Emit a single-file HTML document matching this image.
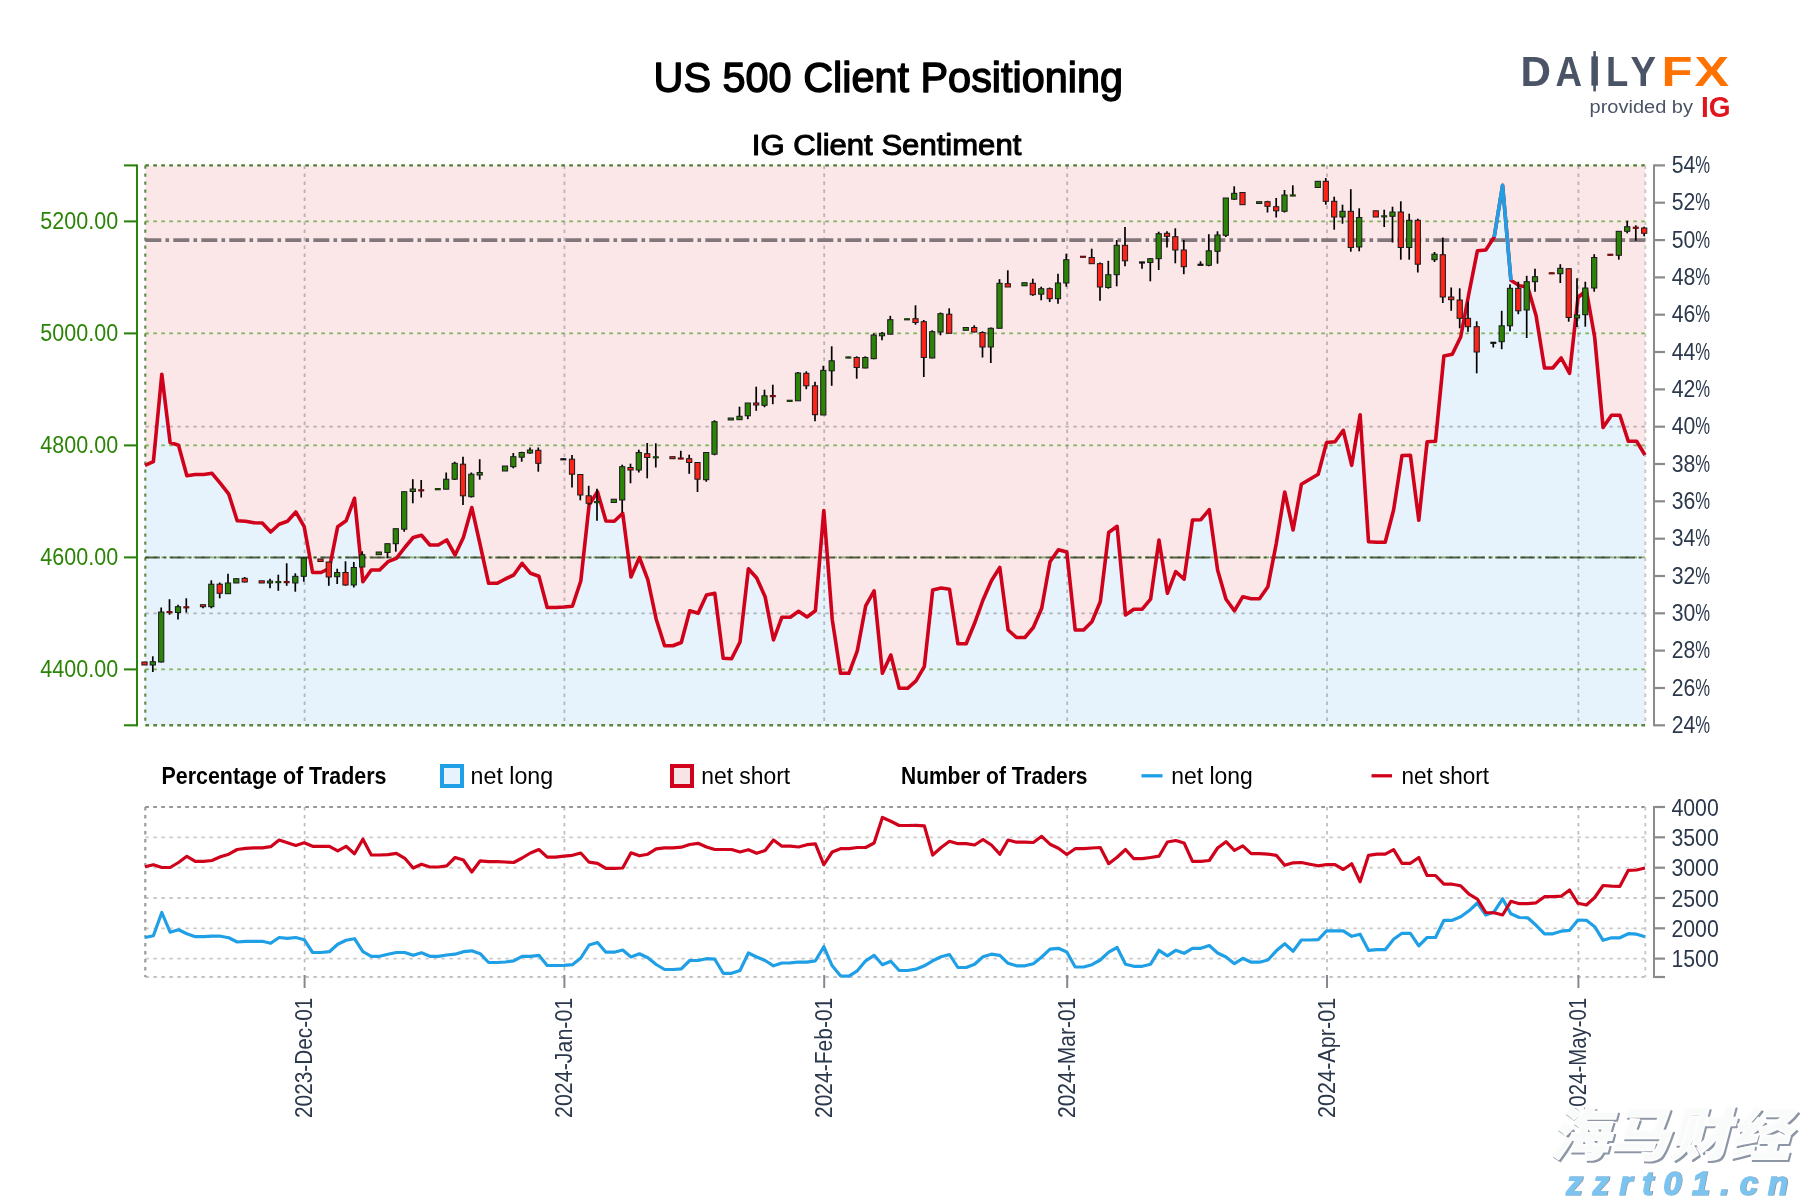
<!DOCTYPE html>
<html lang="en"><head><meta charset="utf-8"><title>US 500 Client Positioning</title>
<style>html,body{margin:0;padding:0;background:#fff;}body{width:1800px;height:1200px;overflow:hidden;}svg{display:block;will-change:transform;}text{font-family:"Liberation Sans",sans-serif;}.cjk{font-family:"Liberation Sans","Noto Sans CJK SC",sans-serif;}</style></head><body>
<svg width="1800" height="1200" viewBox="0 0 1800 1200">
<rect width="1800" height="1200" fill="#ffffff"/>
<text x="888.3" y="92.2" text-anchor="middle" font-size="42" fill="#000" stroke="#000" stroke-width="1.4" stroke-linejoin="round" textLength="469.5" lengthAdjust="spacingAndGlyphs">US 500 Client Positioning</text>
<text x="886.6" y="155.3" text-anchor="middle" font-size="30" fill="#000" stroke="#000" stroke-width="1.05" stroke-linejoin="round" textLength="269.5" lengthAdjust="spacingAndGlyphs">IG Client Sentiment</text>
<g font-weight="bold" font-size="43">
<text x="1520.5" y="85.6" fill="#4a5466" textLength="30.5" lengthAdjust="spacingAndGlyphs">D</text>
<text x="1555.5" y="85.6" fill="#4a5466" textLength="26.5" lengthAdjust="spacingAndGlyphs">A</text>
<text x="1606" y="85.6" fill="#4a5466" textLength="22.3" lengthAdjust="spacingAndGlyphs">L</text>
<text x="1630.5" y="85.6" fill="#4a5466" textLength="25.5" lengthAdjust="spacingAndGlyphs">Y</text>
<text x="1661.6" y="85.6" fill="#ff7200" textLength="31" lengthAdjust="spacingAndGlyphs">F</text>
<text x="1694.5" y="85.6" fill="#ff7200" textLength="34.5" lengthAdjust="spacingAndGlyphs">X</text>
</g>
<rect x="1591.4" y="56.4" width="6.5" height="29.2" fill="#4a5466"/><rect x="1593.3" y="51.1" width="2.6" height="40.3" fill="#4a5466"/>
<text x="1589.5" y="112.6" font-size="19.2" fill="#4a5466" textLength="103.5" lengthAdjust="spacingAndGlyphs">provided by</text>
<text x="1700.9" y="117.2" font-size="30.3" font-weight="bold" fill="#e0161e" textLength="29.6" lengthAdjust="spacingAndGlyphs">IG</text>
<rect x="145.3" y="165.4" width="1500.0" height="559.9" fill="#fbe6e8"/>
<polygon points="145.0,725.3 145.0,465.3 153.4,461.7 161.8,374.2 170.1,442.5 178.5,445.3 186.9,475.8 195.3,474.5 203.7,474.5 212.0,473.3 220.4,483.3 228.8,494.2 237.2,520.8 245.6,521.3 253.9,522.8 262.3,523.0 270.7,532.0 279.1,524.2 287.5,521.2 295.8,512.0 304.2,526.7 312.6,572.5 321.0,572.5 329.4,568.3 337.7,526.7 346.1,520.8 354.5,498.3 362.9,581.7 371.3,570.0 379.6,570.0 388.0,561.7 396.4,558.3 404.8,547.5 413.2,537.5 421.5,535.3 429.9,545.0 438.3,545.0 446.7,540.0 455.1,555.0 463.4,537.5 471.8,507.5 480.2,545.0 488.6,583.3 497.0,583.3 505.3,579.0 513.7,575.0 522.1,563.3 530.5,573.3 538.9,576.3 547.2,607.5 555.6,607.5 564.0,607.0 572.4,606.3 580.8,581.0 589.1,505.0 597.5,491.7 605.9,521.0 614.3,521.3 622.7,513.3 631.0,577.0 639.4,557.5 647.8,579.7 656.2,619.2 664.6,645.8 672.9,645.8 681.3,642.5 689.7,610.8 698.1,613.3 706.5,595.0 714.8,593.3 723.2,658.3 731.6,658.7 740.0,642.0 748.4,568.7 756.7,578.0 765.1,596.7 773.5,640.0 781.9,617.2 790.3,617.2 798.6,611.3 807.0,617.0 815.4,610.8 823.8,510.5 832.2,619.2 840.5,673.3 848.9,673.3 857.3,650.8 865.7,605.8 874.1,590.8 882.4,673.3 890.8,655.0 899.2,688.3 907.6,688.3 916.0,680.8 924.3,666.7 932.7,590.0 941.1,588.0 949.5,589.2 957.9,643.7 966.2,643.7 974.6,623.3 983.0,600.0 991.4,580.8 999.8,567.5 1008.1,630.0 1016.5,637.5 1024.9,637.5 1033.3,627.5 1041.7,608.3 1050.0,561.7 1058.4,549.7 1066.8,552.0 1075.2,630.0 1083.6,630.0 1091.9,621.7 1100.3,601.7 1108.7,532.5 1117.1,526.3 1125.5,615.0 1133.8,609.2 1142.2,609.2 1150.6,599.2 1159.0,540.0 1167.4,593.3 1175.7,571.7 1184.1,579.2 1192.5,520.0 1200.9,519.7 1209.3,509.7 1217.6,570.0 1226.0,599.2 1234.4,610.8 1242.8,596.7 1251.2,598.7 1259.5,598.7 1267.9,586.7 1276.3,543.3 1284.7,492.0 1293.1,530.0 1301.4,484.2 1309.8,479.2 1318.2,474.2 1326.6,442.5 1335.0,441.7 1343.3,430.3 1351.7,465.3 1360.1,414.7 1368.5,541.7 1376.9,542.2 1385.2,542.2 1393.6,510.0 1402.0,455.5 1410.4,455.3 1418.8,520.3 1427.1,441.7 1435.5,441.3 1443.9,356.0 1452.3,354.2 1460.7,337.0 1469.0,293.0 1477.4,250.8 1485.8,250.0 1494.2,237.0 1502.6,185.3 1510.9,280.3 1519.3,285.8 1527.7,287.0 1536.1,315.8 1544.5,368.0 1552.8,368.0 1561.2,358.0 1569.6,373.3 1578.0,297.5 1586.4,290.5 1594.7,337.5 1603.1,427.5 1611.5,415.3 1619.9,415.3 1628.3,441.3 1636.6,441.3 1645.0,455.0 1645.0,725.3" fill="#e6f3fc"/>
<line x1="145.3" x2="1645.3" y1="221.4" y2="221.4" stroke="#7fb356" stroke-width="1.7" stroke-dasharray="3.6 4.4"/>
<line x1="145.3" x2="1645.3" y1="333.4" y2="333.4" stroke="#7fb356" stroke-width="1.7" stroke-dasharray="3.6 4.4"/>
<line x1="145.3" x2="1645.3" y1="445.4" y2="445.4" stroke="#7fb356" stroke-width="1.7" stroke-dasharray="3.6 4.4"/>
<line x1="145.3" x2="1645.3" y1="557.4" y2="557.4" stroke="#7fb356" stroke-width="1.7" stroke-dasharray="3.6 4.4"/>
<line x1="145.3" x2="1645.3" y1="669.4" y2="669.4" stroke="#7fb356" stroke-width="1.7" stroke-dasharray="3.6 4.4"/>
<line x1="145.3" x2="1645.3" y1="426.7" y2="426.7" stroke="#7c7c80" stroke-opacity="0.5" stroke-width="1.8" stroke-dasharray="3.6 4.4"/>
<line x1="145.3" x2="1645.3" y1="613.4" y2="613.4" stroke="#7c7c80" stroke-opacity="0.5" stroke-width="1.8" stroke-dasharray="3.6 4.4"/>
<line x1="304.6" x2="304.6" y1="165.4" y2="721.3" stroke="#7c7c80" stroke-opacity="0.5" stroke-width="1.8" stroke-dasharray="3.6 4.4"/>
<line x1="564.4" x2="564.4" y1="165.4" y2="721.3" stroke="#7c7c80" stroke-opacity="0.5" stroke-width="1.8" stroke-dasharray="3.6 4.4"/>
<line x1="824.2" x2="824.2" y1="165.4" y2="721.3" stroke="#7c7c80" stroke-opacity="0.5" stroke-width="1.8" stroke-dasharray="3.6 4.4"/>
<line x1="1067.2" x2="1067.2" y1="165.4" y2="721.3" stroke="#7c7c80" stroke-opacity="0.5" stroke-width="1.8" stroke-dasharray="3.6 4.4"/>
<line x1="1327.0" x2="1327.0" y1="165.4" y2="721.3" stroke="#7c7c80" stroke-opacity="0.5" stroke-width="1.8" stroke-dasharray="3.6 4.4"/>
<line x1="1578.4" x2="1578.4" y1="165.4" y2="721.3" stroke="#7c7c80" stroke-opacity="0.5" stroke-width="1.8" stroke-dasharray="3.6 4.4"/>
<line x1="145.3" x2="1645.3" y1="165.4" y2="165.4" stroke="#4c7d2c" stroke-width="2.2" stroke-dasharray="3.6 4.4"/>
<line x1="145.3" x2="1645.3" y1="725.3" y2="725.3" stroke="#4c7d2c" stroke-opacity="0.92" stroke-width="2.4" stroke-dasharray="3.8 4.2"/>
<line x1="145.3" x2="145.3" y1="165.4" y2="725.3" stroke="#4c7d2c" stroke-opacity="0.9" stroke-width="2.1" stroke-dasharray="3.3 4.7"/>
<line x1="1645.3" x2="1645.3" y1="165.4" y2="725.3" stroke="#c9c5c6" stroke-width="2" stroke-dasharray="3.6 4.4"/>
<line x1="145.3" x2="1645.3" y1="240.2" y2="240.2" stroke="#82777a" stroke-width="3.8" stroke-dasharray="16 4.2 3.6 4.2"/>
<line x1="145.3" x2="1645.3" y1="557.5" y2="557.5" stroke="#1c2a14" stroke-opacity="0.72" stroke-width="2.1" stroke-dasharray="14.5 3.8 2.9 3.8"/>
<polyline points="145.0,465.3 153.4,461.7 161.8,374.2 170.1,442.5 178.5,445.3 186.9,475.8 195.3,474.5 203.7,474.5 212.0,473.3 220.4,483.3 228.8,494.2 237.2,520.8 245.6,521.3 253.9,522.8 262.3,523.0 270.7,532.0 279.1,524.2 287.5,521.2 295.8,512.0 304.2,526.7 312.6,572.5 321.0,572.5 329.4,568.3 337.7,526.7 346.1,520.8 354.5,498.3 362.9,581.7 371.3,570.0 379.6,570.0 388.0,561.7 396.4,558.3 404.8,547.5 413.2,537.5 421.5,535.3 429.9,545.0 438.3,545.0 446.7,540.0 455.1,555.0 463.4,537.5 471.8,507.5 480.2,545.0 488.6,583.3 497.0,583.3 505.3,579.0 513.7,575.0 522.1,563.3 530.5,573.3 538.9,576.3 547.2,607.5 555.6,607.5 564.0,607.0 572.4,606.3 580.8,581.0 589.1,505.0 597.5,491.7 605.9,521.0 614.3,521.3 622.7,513.3 631.0,577.0 639.4,557.5 647.8,579.7 656.2,619.2 664.6,645.8 672.9,645.8 681.3,642.5 689.7,610.8 698.1,613.3 706.5,595.0 714.8,593.3 723.2,658.3 731.6,658.7 740.0,642.0 748.4,568.7 756.7,578.0 765.1,596.7 773.5,640.0 781.9,617.2 790.3,617.2 798.6,611.3 807.0,617.0 815.4,610.8 823.8,510.5 832.2,619.2 840.5,673.3 848.9,673.3 857.3,650.8 865.7,605.8 874.1,590.8 882.4,673.3 890.8,655.0 899.2,688.3 907.6,688.3 916.0,680.8 924.3,666.7 932.7,590.0 941.1,588.0 949.5,589.2 957.9,643.7 966.2,643.7 974.6,623.3 983.0,600.0 991.4,580.8 999.8,567.5 1008.1,630.0 1016.5,637.5 1024.9,637.5 1033.3,627.5 1041.7,608.3 1050.0,561.7 1058.4,549.7 1066.8,552.0 1075.2,630.0 1083.6,630.0 1091.9,621.7 1100.3,601.7 1108.7,532.5 1117.1,526.3 1125.5,615.0 1133.8,609.2 1142.2,609.2 1150.6,599.2 1159.0,540.0 1167.4,593.3 1175.7,571.7 1184.1,579.2 1192.5,520.0 1200.9,519.7 1209.3,509.7 1217.6,570.0 1226.0,599.2 1234.4,610.8 1242.8,596.7 1251.2,598.7 1259.5,598.7 1267.9,586.7 1276.3,543.3 1284.7,492.0 1293.1,530.0 1301.4,484.2 1309.8,479.2 1318.2,474.2 1326.6,442.5 1335.0,441.7 1343.3,430.3 1351.7,465.3 1360.1,414.7 1368.5,541.7 1376.9,542.2 1385.2,542.2 1393.6,510.0 1402.0,455.5 1410.4,455.3 1418.8,520.3 1427.1,441.7 1435.5,441.3 1443.9,356.0 1452.3,354.2 1460.7,337.0 1469.0,293.0 1477.4,250.8 1485.8,250.0 1494.2,237.0 1502.6,185.3 1510.9,280.3 1519.3,285.8 1527.7,287.0 1536.1,315.8 1544.5,368.0 1552.8,368.0 1561.2,358.0 1569.6,373.3 1578.0,297.5 1586.4,290.5 1594.7,337.5 1603.1,427.5 1611.5,415.3 1619.9,415.3 1628.3,441.3 1636.6,441.3 1645.0,455.0" fill="none" stroke="#d0021b" stroke-width="3.6" stroke-linejoin="round"/>
<polyline points="1494.2,237.0 1502.6,185.3 1510.9,280.3" fill="none" stroke="#1f9fe5" stroke-width="3.6" stroke-linejoin="round"/>
<line x1="144.5" x2="144.5" y1="662" y2="665" stroke="#000" stroke-width="1.7"/>
<rect x="141.9" y="662.0" width="5.2" height="3.0" fill="#ff2218" stroke="#1a1a1a" stroke-width="1"/>
<line x1="152.8" x2="152.8" y1="656.3" y2="672" stroke="#000" stroke-width="1.7"/>
<rect x="150.2" y="661.7" width="5.2" height="3.3" fill="#2b8408" stroke="#1a1a1a" stroke-width="1"/>
<line x1="161.2" x2="161.2" y1="607.5" y2="662.5" stroke="#000" stroke-width="1.7"/>
<rect x="158.6" y="612.0" width="5.2" height="50.0" fill="#2b8408" stroke="#1a1a1a" stroke-width="1"/>
<line x1="169.5" x2="169.5" y1="599.2" y2="614.7" stroke="#000" stroke-width="1.7"/>
<rect x="166.5" y="611.0" width="6" height="2.2" fill="#6b0f0f"/>
<line x1="178" x2="178" y1="604.7" y2="619.5" stroke="#000" stroke-width="1.7"/>
<rect x="175.4" y="606.7" width="5.2" height="5.8" fill="#2b8408" stroke="#1a1a1a" stroke-width="1"/>
<line x1="186.3" x2="186.3" y1="598.3" y2="612.5" stroke="#000" stroke-width="1.7"/>
<rect x="183.3" y="606.2" width="6" height="2.2" fill="#6b0f0f"/>
<line x1="203" x2="203" y1="604.7" y2="608.3" stroke="#000" stroke-width="1.7"/>
<rect x="200.4" y="604.7" width="5.2" height="2.0" fill="#ff2218" stroke="#1a1a1a" stroke-width="1"/>
<line x1="211.3" x2="211.3" y1="580.3" y2="608.3" stroke="#000" stroke-width="1.7"/>
<rect x="208.7" y="584.2" width="5.2" height="22.5" fill="#2b8408" stroke="#1a1a1a" stroke-width="1"/>
<line x1="219.7" x2="219.7" y1="582.5" y2="598.3" stroke="#000" stroke-width="1.7"/>
<rect x="217.1" y="584.2" width="5.2" height="9.1" fill="#ff2218" stroke="#1a1a1a" stroke-width="1"/>
<line x1="228" x2="228" y1="573.7" y2="593.7" stroke="#000" stroke-width="1.7"/>
<rect x="225.4" y="583.0" width="5.2" height="10.7" fill="#2b8408" stroke="#1a1a1a" stroke-width="1"/>
<line x1="236.3" x2="236.3" y1="578.7" y2="583" stroke="#000" stroke-width="1.7"/>
<rect x="233.7" y="578.7" width="5.2" height="4.3" fill="#2b8408" stroke="#1a1a1a" stroke-width="1"/>
<line x1="244.7" x2="244.7" y1="577" y2="582.5" stroke="#000" stroke-width="1.7"/>
<rect x="242.1" y="578.3" width="5.2" height="3.7" fill="#ff2218" stroke="#1a1a1a" stroke-width="1"/>
<line x1="261.7" x2="261.7" y1="580.8" y2="583" stroke="#000" stroke-width="1.7"/>
<rect x="259.1" y="580.8" width="5.2" height="2.2" fill="#ff2218" stroke="#1a1a1a" stroke-width="1"/>
<line x1="270" x2="270" y1="578.7" y2="588.3" stroke="#000" stroke-width="1.7"/>
<rect x="267.4" y="581.0" width="5.2" height="2.0" fill="#2b8408" stroke="#1a1a1a" stroke-width="1"/>
<line x1="278.3" x2="278.3" y1="574.7" y2="590.8" stroke="#000" stroke-width="1.7"/>
<rect x="275.3" y="581.0" width="6" height="2.2" fill="#1c3d0c"/>
<line x1="286.7" x2="286.7" y1="563.3" y2="585.8" stroke="#000" stroke-width="1.7"/>
<rect x="283.7" y="581.0" width="6" height="2.2" fill="#6b0f0f"/>
<line x1="295.3" x2="295.3" y1="573.3" y2="591.7" stroke="#000" stroke-width="1.7"/>
<rect x="292.7" y="576.3" width="5.2" height="6.7" fill="#2b8408" stroke="#1a1a1a" stroke-width="1"/>
<line x1="303.8" x2="303.8" y1="557" y2="581.7" stroke="#000" stroke-width="1.7"/>
<rect x="301.2" y="558.0" width="5.2" height="18.3" fill="#2b8408" stroke="#1a1a1a" stroke-width="1"/>
<line x1="320.5" x2="320.5" y1="559" y2="561.5" stroke="#000" stroke-width="1.7"/>
<rect x="317.9" y="559.0" width="5.2" height="2.5" fill="#ff2218" stroke="#1a1a1a" stroke-width="1"/>
<line x1="328.8" x2="328.8" y1="562" y2="585.8" stroke="#000" stroke-width="1.7"/>
<rect x="326.2" y="562.0" width="5.2" height="15.0" fill="#ff2218" stroke="#1a1a1a" stroke-width="1"/>
<line x1="337.2" x2="337.2" y1="568.7" y2="584" stroke="#000" stroke-width="1.7"/>
<rect x="334.6" y="572.5" width="5.2" height="4.2" fill="#2b8408" stroke="#1a1a1a" stroke-width="1"/>
<line x1="345.5" x2="345.5" y1="561.3" y2="585.8" stroke="#000" stroke-width="1.7"/>
<rect x="342.9" y="572.5" width="5.2" height="12.5" fill="#ff2218" stroke="#1a1a1a" stroke-width="1"/>
<line x1="353.8" x2="353.8" y1="562" y2="587.5" stroke="#000" stroke-width="1.7"/>
<rect x="351.2" y="567.5" width="5.2" height="17.5" fill="#2b8408" stroke="#1a1a1a" stroke-width="1"/>
<line x1="362.2" x2="362.2" y1="551.3" y2="567" stroke="#000" stroke-width="1.7"/>
<rect x="359.6" y="554.7" width="5.2" height="12.3" fill="#2b8408" stroke="#1a1a1a" stroke-width="1"/>
<line x1="378.8" x2="378.8" y1="552" y2="554.7" stroke="#000" stroke-width="1.7"/>
<rect x="376.2" y="552.0" width="5.2" height="2.7" fill="#2b8408" stroke="#1a1a1a" stroke-width="1"/>
<line x1="387.5" x2="387.5" y1="543.7" y2="558.3" stroke="#000" stroke-width="1.7"/>
<rect x="384.9" y="543.7" width="5.2" height="8.8" fill="#2b8408" stroke="#1a1a1a" stroke-width="1"/>
<line x1="395.8" x2="395.8" y1="528.7" y2="551.7" stroke="#000" stroke-width="1.7"/>
<rect x="393.2" y="528.7" width="5.2" height="15.0" fill="#2b8408" stroke="#1a1a1a" stroke-width="1"/>
<line x1="404.2" x2="404.2" y1="491.7" y2="531.7" stroke="#000" stroke-width="1.7"/>
<rect x="401.6" y="491.7" width="5.2" height="37.5" fill="#2b8408" stroke="#1a1a1a" stroke-width="1"/>
<line x1="412.8" x2="412.8" y1="479.2" y2="503.3" stroke="#000" stroke-width="1.7"/>
<rect x="410.2" y="489.0" width="5.2" height="2.5" fill="#2b8408" stroke="#1a1a1a" stroke-width="1"/>
<line x1="421.2" x2="421.2" y1="480" y2="497.5" stroke="#000" stroke-width="1.7"/>
<rect x="418.2" y="489.2" width="6" height="2.2" fill="#6b0f0f"/>
<line x1="437.8" x2="437.8" y1="488.3" y2="490" stroke="#000" stroke-width="1.7"/>
<rect x="434.8" y="488.0" width="6" height="2.3" fill="#1c3d0c"/>
<line x1="446.2" x2="446.2" y1="472.5" y2="489.2" stroke="#000" stroke-width="1.7"/>
<rect x="443.6" y="479.2" width="5.2" height="10.0" fill="#2b8408" stroke="#1a1a1a" stroke-width="1"/>
<line x1="454.7" x2="454.7" y1="461.7" y2="480" stroke="#000" stroke-width="1.7"/>
<rect x="452.1" y="463.3" width="5.2" height="15.9" fill="#2b8408" stroke="#1a1a1a" stroke-width="1"/>
<line x1="463" x2="463" y1="456.7" y2="505" stroke="#000" stroke-width="1.7"/>
<rect x="460.4" y="464.2" width="5.2" height="31.6" fill="#ff2218" stroke="#1a1a1a" stroke-width="1"/>
<line x1="471.3" x2="471.3" y1="472.5" y2="497.5" stroke="#000" stroke-width="1.7"/>
<rect x="468.7" y="474.2" width="5.2" height="22.5" fill="#2b8408" stroke="#1a1a1a" stroke-width="1"/>
<line x1="479.7" x2="479.7" y1="459.2" y2="479.7" stroke="#000" stroke-width="1.7"/>
<rect x="477.1" y="472.5" width="5.2" height="2.5" fill="#2b8408" stroke="#1a1a1a" stroke-width="1"/>
<line x1="505" x2="505" y1="466" y2="471" stroke="#000" stroke-width="1.7"/>
<rect x="502.4" y="466.0" width="5.2" height="5.0" fill="#2b8408" stroke="#1a1a1a" stroke-width="1"/>
<line x1="513.3" x2="513.3" y1="453" y2="468.3" stroke="#000" stroke-width="1.7"/>
<rect x="510.7" y="456.7" width="5.2" height="10.0" fill="#2b8408" stroke="#1a1a1a" stroke-width="1"/>
<line x1="521.7" x2="521.7" y1="451.7" y2="461.7" stroke="#000" stroke-width="1.7"/>
<rect x="519.1" y="452.5" width="5.2" height="4.7" fill="#2b8408" stroke="#1a1a1a" stroke-width="1"/>
<line x1="530" x2="530" y1="447.5" y2="453.7" stroke="#000" stroke-width="1.7"/>
<rect x="527.4" y="450.0" width="5.2" height="3.0" fill="#2b8408" stroke="#1a1a1a" stroke-width="1"/>
<line x1="538.3" x2="538.3" y1="447.5" y2="471.7" stroke="#000" stroke-width="1.7"/>
<rect x="535.7" y="450.3" width="5.2" height="13.0" fill="#ff2218" stroke="#1a1a1a" stroke-width="1"/>
<line x1="563.3" x2="563.3" y1="458.5" y2="460" stroke="#000" stroke-width="1.7"/>
<rect x="560.3" y="458.2" width="6" height="2.2" fill="#111"/>
<line x1="572" x2="572" y1="455" y2="487.5" stroke="#000" stroke-width="1.7"/>
<rect x="569.4" y="459.2" width="5.2" height="15.0" fill="#ff2218" stroke="#1a1a1a" stroke-width="1"/>
<line x1="580.3" x2="580.3" y1="474.5" y2="500.3" stroke="#000" stroke-width="1.7"/>
<rect x="577.7" y="474.5" width="5.2" height="20.5" fill="#ff2218" stroke="#1a1a1a" stroke-width="1"/>
<line x1="588.7" x2="588.7" y1="485.8" y2="505" stroke="#000" stroke-width="1.7"/>
<rect x="586.1" y="495.8" width="5.2" height="7.5" fill="#ff2218" stroke="#1a1a1a" stroke-width="1"/>
<line x1="597" x2="597" y1="488.7" y2="520.8" stroke="#000" stroke-width="1.7"/>
<rect x="594.0" y="501.0" width="6" height="2.2" fill="#1c3d0c"/>
<line x1="613.8" x2="613.8" y1="499.2" y2="502.5" stroke="#000" stroke-width="1.7"/>
<rect x="611.2" y="499.2" width="5.2" height="3.3" fill="#2b8408" stroke="#1a1a1a" stroke-width="1"/>
<line x1="622.2" x2="622.2" y1="464.7" y2="512.5" stroke="#000" stroke-width="1.7"/>
<rect x="619.6" y="466.7" width="5.2" height="33.3" fill="#2b8408" stroke="#1a1a1a" stroke-width="1"/>
<line x1="630.5" x2="630.5" y1="463.7" y2="483.3" stroke="#000" stroke-width="1.7"/>
<rect x="627.9" y="467.5" width="5.2" height="2.5" fill="#ff2218" stroke="#1a1a1a" stroke-width="1"/>
<line x1="638.8" x2="638.8" y1="449.7" y2="472.5" stroke="#000" stroke-width="1.7"/>
<rect x="636.2" y="452.5" width="5.2" height="17.5" fill="#2b8408" stroke="#1a1a1a" stroke-width="1"/>
<line x1="647.2" x2="647.2" y1="443" y2="478.3" stroke="#000" stroke-width="1.7"/>
<rect x="644.6" y="453.7" width="5.2" height="3.8" fill="#ff2218" stroke="#1a1a1a" stroke-width="1"/>
<line x1="655.8" x2="655.8" y1="443.3" y2="467.5" stroke="#000" stroke-width="1.7"/>
<rect x="652.8" y="456.2" width="6" height="2.2" fill="#1c3d0c"/>
<line x1="672.5" x2="672.5" y1="456.7" y2="458.7" stroke="#000" stroke-width="1.7"/>
<rect x="669.9" y="456.7" width="5.2" height="2.0" fill="#ff2218" stroke="#1a1a1a" stroke-width="1"/>
<line x1="680.8" x2="680.8" y1="450.8" y2="459.2" stroke="#000" stroke-width="1.7"/>
<rect x="677.8" y="457.4" width="6" height="2.2" fill="#6b0f0f"/>
<line x1="689.2" x2="689.2" y1="454.7" y2="473.8" stroke="#000" stroke-width="1.7"/>
<rect x="686.6" y="458.7" width="5.2" height="3.8" fill="#ff2218" stroke="#1a1a1a" stroke-width="1"/>
<line x1="697.5" x2="697.5" y1="462.5" y2="492" stroke="#000" stroke-width="1.7"/>
<rect x="694.9" y="462.5" width="5.2" height="16.7" fill="#ff2218" stroke="#1a1a1a" stroke-width="1"/>
<line x1="706.2" x2="706.2" y1="452.5" y2="481.7" stroke="#000" stroke-width="1.7"/>
<rect x="703.6" y="452.5" width="5.2" height="27.2" fill="#2b8408" stroke="#1a1a1a" stroke-width="1"/>
<line x1="714.5" x2="714.5" y1="420.3" y2="455.3" stroke="#000" stroke-width="1.7"/>
<rect x="711.9" y="421.7" width="5.2" height="32.5" fill="#2b8408" stroke="#1a1a1a" stroke-width="1"/>
<line x1="730.8" x2="730.8" y1="418" y2="420" stroke="#000" stroke-width="1.7"/>
<rect x="728.2" y="418.0" width="5.2" height="2.0" fill="#2b8408" stroke="#1a1a1a" stroke-width="1"/>
<line x1="739.5" x2="739.5" y1="406.7" y2="419.7" stroke="#000" stroke-width="1.7"/>
<rect x="736.9" y="416.3" width="5.2" height="3.4" fill="#2b8408" stroke="#1a1a1a" stroke-width="1"/>
<line x1="747.8" x2="747.8" y1="403" y2="419.2" stroke="#000" stroke-width="1.7"/>
<rect x="745.2" y="403.0" width="5.2" height="12.8" fill="#2b8408" stroke="#1a1a1a" stroke-width="1"/>
<line x1="756.2" x2="756.2" y1="386.7" y2="410.8" stroke="#000" stroke-width="1.7"/>
<rect x="753.6" y="403.0" width="5.2" height="2.0" fill="#ff2218" stroke="#1a1a1a" stroke-width="1"/>
<line x1="764.5" x2="764.5" y1="389.7" y2="407.2" stroke="#000" stroke-width="1.7"/>
<rect x="761.9" y="395.8" width="5.2" height="9.5" fill="#2b8408" stroke="#1a1a1a" stroke-width="1"/>
<line x1="772.8" x2="772.8" y1="384.7" y2="404.2" stroke="#000" stroke-width="1.7"/>
<rect x="769.8" y="395.0" width="6" height="2.2" fill="#6b0f0f"/>
<line x1="789.7" x2="789.7" y1="400" y2="401.7" stroke="#000" stroke-width="1.7"/>
<rect x="786.7" y="399.7" width="6" height="2.3" fill="#1c3d0c"/>
<line x1="798" x2="798" y1="372" y2="400.8" stroke="#000" stroke-width="1.7"/>
<rect x="795.4" y="373.0" width="5.2" height="27.8" fill="#2b8408" stroke="#1a1a1a" stroke-width="1"/>
<line x1="806.3" x2="806.3" y1="371.3" y2="389.2" stroke="#000" stroke-width="1.7"/>
<rect x="803.7" y="373.3" width="5.2" height="12.5" fill="#ff2218" stroke="#1a1a1a" stroke-width="1"/>
<line x1="815" x2="815" y1="381.7" y2="421.3" stroke="#000" stroke-width="1.7"/>
<rect x="812.4" y="385.8" width="5.2" height="28.9" fill="#ff2218" stroke="#1a1a1a" stroke-width="1"/>
<line x1="823.3" x2="823.3" y1="365.8" y2="415" stroke="#000" stroke-width="1.7"/>
<rect x="820.7" y="370.3" width="5.2" height="44.7" fill="#2b8408" stroke="#1a1a1a" stroke-width="1"/>
<line x1="831.7" x2="831.7" y1="346.3" y2="385.8" stroke="#000" stroke-width="1.7"/>
<rect x="829.1" y="360.8" width="5.2" height="10.0" fill="#2b8408" stroke="#1a1a1a" stroke-width="1"/>
<line x1="848.3" x2="848.3" y1="356.7" y2="358.3" stroke="#000" stroke-width="1.7"/>
<rect x="845.3" y="356.4" width="6" height="2.2" fill="#1c3d0c"/>
<line x1="856.7" x2="856.7" y1="356.3" y2="378.7" stroke="#000" stroke-width="1.7"/>
<rect x="854.1" y="357.5" width="5.2" height="10.0" fill="#ff2218" stroke="#1a1a1a" stroke-width="1"/>
<line x1="865.3" x2="865.3" y1="356.3" y2="368.3" stroke="#000" stroke-width="1.7"/>
<rect x="862.7" y="357.5" width="5.2" height="10.5" fill="#2b8408" stroke="#1a1a1a" stroke-width="1"/>
<line x1="873.7" x2="873.7" y1="333.3" y2="359.2" stroke="#000" stroke-width="1.7"/>
<rect x="871.1" y="335.0" width="5.2" height="23.7" fill="#2b8408" stroke="#1a1a1a" stroke-width="1"/>
<line x1="882" x2="882" y1="332" y2="340.3" stroke="#000" stroke-width="1.7"/>
<rect x="879.4" y="333.3" width="5.2" height="2.5" fill="#2b8408" stroke="#1a1a1a" stroke-width="1"/>
<line x1="890.3" x2="890.3" y1="315.8" y2="334.2" stroke="#000" stroke-width="1.7"/>
<rect x="887.7" y="319.7" width="5.2" height="14.5" fill="#2b8408" stroke="#1a1a1a" stroke-width="1"/>
<line x1="907" x2="907" y1="318.5" y2="320" stroke="#000" stroke-width="1.7"/>
<rect x="904.0" y="318.2" width="6" height="2.2" fill="#1c3d0c"/>
<line x1="915.5" x2="915.5" y1="305.3" y2="324.7" stroke="#000" stroke-width="1.7"/>
<rect x="912.9" y="318.7" width="5.2" height="3.8" fill="#ff2218" stroke="#1a1a1a" stroke-width="1"/>
<line x1="923.8" x2="923.8" y1="320" y2="377" stroke="#000" stroke-width="1.7"/>
<rect x="921.2" y="321.7" width="5.2" height="35.8" fill="#ff2218" stroke="#1a1a1a" stroke-width="1"/>
<line x1="932.2" x2="932.2" y1="330.3" y2="358.3" stroke="#000" stroke-width="1.7"/>
<rect x="929.6" y="331.7" width="5.2" height="26.3" fill="#2b8408" stroke="#1a1a1a" stroke-width="1"/>
<line x1="940.5" x2="940.5" y1="312.5" y2="335.3" stroke="#000" stroke-width="1.7"/>
<rect x="937.9" y="313.7" width="5.2" height="18.3" fill="#2b8408" stroke="#1a1a1a" stroke-width="1"/>
<line x1="949.2" x2="949.2" y1="308.3" y2="333.3" stroke="#000" stroke-width="1.7"/>
<rect x="946.6" y="314.2" width="5.2" height="19.1" fill="#ff2218" stroke="#1a1a1a" stroke-width="1"/>
<line x1="965.8" x2="965.8" y1="327.5" y2="330.3" stroke="#000" stroke-width="1.7"/>
<rect x="963.2" y="327.5" width="5.2" height="2.8" fill="#2b8408" stroke="#1a1a1a" stroke-width="1"/>
<line x1="974.2" x2="974.2" y1="325.3" y2="332.5" stroke="#000" stroke-width="1.7"/>
<rect x="971.6" y="327.5" width="5.2" height="4.5" fill="#ff2218" stroke="#1a1a1a" stroke-width="1"/>
<line x1="982.5" x2="982.5" y1="331.3" y2="357.5" stroke="#000" stroke-width="1.7"/>
<rect x="979.9" y="332.5" width="5.2" height="14.5" fill="#ff2218" stroke="#1a1a1a" stroke-width="1"/>
<line x1="990.8" x2="990.8" y1="327.5" y2="363" stroke="#000" stroke-width="1.7"/>
<rect x="988.2" y="328.3" width="5.2" height="18.7" fill="#2b8408" stroke="#1a1a1a" stroke-width="1"/>
<line x1="999.5" x2="999.5" y1="279.2" y2="328.3" stroke="#000" stroke-width="1.7"/>
<rect x="996.9" y="283.3" width="5.2" height="45.0" fill="#2b8408" stroke="#1a1a1a" stroke-width="1"/>
<line x1="1007.8" x2="1007.8" y1="270.3" y2="287" stroke="#000" stroke-width="1.7"/>
<rect x="1005.2" y="283.7" width="5.2" height="3.3" fill="#ff2218" stroke="#1a1a1a" stroke-width="1"/>
<line x1="1024.5" x2="1024.5" y1="282.7" y2="285.8" stroke="#000" stroke-width="1.7"/>
<rect x="1021.9" y="282.7" width="5.2" height="3.1" fill="#2b8408" stroke="#1a1a1a" stroke-width="1"/>
<line x1="1032.8" x2="1032.8" y1="278.7" y2="295.8" stroke="#000" stroke-width="1.7"/>
<rect x="1030.2" y="283.3" width="5.2" height="11.4" fill="#ff2218" stroke="#1a1a1a" stroke-width="1"/>
<line x1="1041.2" x2="1041.2" y1="286.7" y2="300.3" stroke="#000" stroke-width="1.7"/>
<rect x="1038.6" y="288.7" width="5.2" height="5.5" fill="#2b8408" stroke="#1a1a1a" stroke-width="1"/>
<line x1="1049.7" x2="1049.7" y1="287.5" y2="302" stroke="#000" stroke-width="1.7"/>
<rect x="1047.1" y="288.7" width="5.2" height="10.0" fill="#ff2218" stroke="#1a1a1a" stroke-width="1"/>
<line x1="1058" x2="1058" y1="273.7" y2="303.7" stroke="#000" stroke-width="1.7"/>
<rect x="1055.4" y="283.0" width="5.2" height="15.7" fill="#2b8408" stroke="#1a1a1a" stroke-width="1"/>
<line x1="1066.3" x2="1066.3" y1="253.7" y2="286.7" stroke="#000" stroke-width="1.7"/>
<rect x="1063.7" y="259.7" width="5.2" height="23.3" fill="#2b8408" stroke="#1a1a1a" stroke-width="1"/>
<line x1="1083" x2="1083" y1="256" y2="257.5" stroke="#000" stroke-width="1.7"/>
<rect x="1080.0" y="255.7" width="6" height="2.2" fill="#6b0f0f"/>
<line x1="1091.7" x2="1091.7" y1="248.7" y2="263.7" stroke="#000" stroke-width="1.7"/>
<rect x="1089.1" y="257.5" width="5.2" height="6.2" fill="#ff2218" stroke="#1a1a1a" stroke-width="1"/>
<line x1="1100" x2="1100" y1="262.5" y2="300.8" stroke="#000" stroke-width="1.7"/>
<rect x="1097.4" y="263.7" width="5.2" height="23.3" fill="#ff2218" stroke="#1a1a1a" stroke-width="1"/>
<line x1="1108.3" x2="1108.3" y1="260.8" y2="288.7" stroke="#000" stroke-width="1.7"/>
<rect x="1105.7" y="274.7" width="5.2" height="12.8" fill="#2b8408" stroke="#1a1a1a" stroke-width="1"/>
<line x1="1116.7" x2="1116.7" y1="240" y2="286.3" stroke="#000" stroke-width="1.7"/>
<rect x="1114.1" y="245.3" width="5.2" height="29.4" fill="#2b8408" stroke="#1a1a1a" stroke-width="1"/>
<line x1="1125" x2="1125" y1="227" y2="266.3" stroke="#000" stroke-width="1.7"/>
<rect x="1122.4" y="245.3" width="5.2" height="15.5" fill="#ff2218" stroke="#1a1a1a" stroke-width="1"/>
<line x1="1142" x2="1142" y1="261.7" y2="268.7" stroke="#000" stroke-width="1.7"/>
<rect x="1139.0" y="261.4" width="6" height="2.2" fill="#111"/>
<line x1="1150.3" x2="1150.3" y1="258" y2="281.3" stroke="#000" stroke-width="1.7"/>
<rect x="1147.7" y="258.7" width="5.2" height="3.8" fill="#2b8408" stroke="#1a1a1a" stroke-width="1"/>
<line x1="1158.7" x2="1158.7" y1="231.7" y2="270" stroke="#000" stroke-width="1.7"/>
<rect x="1156.1" y="233.7" width="5.2" height="25.0" fill="#2b8408" stroke="#1a1a1a" stroke-width="1"/>
<line x1="1167" x2="1167" y1="231.3" y2="247.5" stroke="#000" stroke-width="1.7"/>
<rect x="1164.4" y="233.3" width="5.2" height="3.0" fill="#ff2218" stroke="#1a1a1a" stroke-width="1"/>
<line x1="1175.3" x2="1175.3" y1="228.3" y2="263.3" stroke="#000" stroke-width="1.7"/>
<rect x="1172.7" y="236.7" width="5.2" height="13.3" fill="#ff2218" stroke="#1a1a1a" stroke-width="1"/>
<line x1="1183.8" x2="1183.8" y1="240" y2="274.2" stroke="#000" stroke-width="1.7"/>
<rect x="1181.2" y="250.0" width="5.2" height="16.7" fill="#ff2218" stroke="#1a1a1a" stroke-width="1"/>
<line x1="1200.5" x2="1200.5" y1="261.3" y2="265.3" stroke="#000" stroke-width="1.7"/>
<rect x="1197.5" y="263.7" width="6" height="2.2" fill="#111"/>
<line x1="1208.8" x2="1208.8" y1="234.2" y2="266.3" stroke="#000" stroke-width="1.7"/>
<rect x="1206.2" y="250.8" width="5.2" height="14.5" fill="#2b8408" stroke="#1a1a1a" stroke-width="1"/>
<line x1="1217.5" x2="1217.5" y1="231.3" y2="263.7" stroke="#000" stroke-width="1.7"/>
<rect x="1214.9" y="235.0" width="5.2" height="16.3" fill="#2b8408" stroke="#1a1a1a" stroke-width="1"/>
<line x1="1225.8" x2="1225.8" y1="198" y2="237" stroke="#000" stroke-width="1.7"/>
<rect x="1223.2" y="198.0" width="5.2" height="37.3" fill="#2b8408" stroke="#1a1a1a" stroke-width="1"/>
<line x1="1234.2" x2="1234.2" y1="186.3" y2="200" stroke="#000" stroke-width="1.7"/>
<rect x="1231.6" y="193.3" width="5.2" height="5.9" fill="#2b8408" stroke="#1a1a1a" stroke-width="1"/>
<line x1="1242.5" x2="1242.5" y1="192.5" y2="204.7" stroke="#000" stroke-width="1.7"/>
<rect x="1239.9" y="192.5" width="5.2" height="12.2" fill="#ff2218" stroke="#1a1a1a" stroke-width="1"/>
<line x1="1259.2" x2="1259.2" y1="201.7" y2="203.5" stroke="#000" stroke-width="1.7"/>
<rect x="1256.6" y="201.7" width="5.2" height="1.8" fill="#2b8408" stroke="#1a1a1a" stroke-width="1"/>
<line x1="1267.5" x2="1267.5" y1="200.8" y2="212.5" stroke="#000" stroke-width="1.7"/>
<rect x="1264.9" y="201.7" width="5.2" height="4.6" fill="#ff2218" stroke="#1a1a1a" stroke-width="1"/>
<line x1="1276.2" x2="1276.2" y1="198" y2="217.5" stroke="#000" stroke-width="1.7"/>
<rect x="1273.6" y="206.7" width="5.2" height="4.1" fill="#ff2218" stroke="#1a1a1a" stroke-width="1"/>
<line x1="1284.5" x2="1284.5" y1="190" y2="212.5" stroke="#000" stroke-width="1.7"/>
<rect x="1281.9" y="195.0" width="5.2" height="16.3" fill="#2b8408" stroke="#1a1a1a" stroke-width="1"/>
<line x1="1292.8" x2="1292.8" y1="185.3" y2="196" stroke="#000" stroke-width="1.7"/>
<rect x="1289.8" y="194.4" width="6" height="2.2" fill="#1c3d0c"/>
<line x1="1317.8" x2="1317.8" y1="181.3" y2="187.5" stroke="#000" stroke-width="1.7"/>
<rect x="1315.2" y="181.3" width="5.2" height="6.2" fill="#2b8408" stroke="#1a1a1a" stroke-width="1"/>
<line x1="1325.8" x2="1325.8" y1="178" y2="204.7" stroke="#000" stroke-width="1.7"/>
<rect x="1323.2" y="181.3" width="5.2" height="20.0" fill="#ff2218" stroke="#1a1a1a" stroke-width="1"/>
<line x1="1334.2" x2="1334.2" y1="196.7" y2="229.7" stroke="#000" stroke-width="1.7"/>
<rect x="1331.6" y="201.3" width="5.2" height="15.7" fill="#ff2218" stroke="#1a1a1a" stroke-width="1"/>
<line x1="1342.5" x2="1342.5" y1="204.7" y2="223.7" stroke="#000" stroke-width="1.7"/>
<rect x="1339.9" y="211.3" width="5.2" height="5.7" fill="#2b8408" stroke="#1a1a1a" stroke-width="1"/>
<line x1="1350.8" x2="1350.8" y1="189.2" y2="251.7" stroke="#000" stroke-width="1.7"/>
<rect x="1348.2" y="211.3" width="5.2" height="36.2" fill="#ff2218" stroke="#1a1a1a" stroke-width="1"/>
<line x1="1359.2" x2="1359.2" y1="208.3" y2="251.3" stroke="#000" stroke-width="1.7"/>
<rect x="1356.6" y="217.5" width="5.2" height="29.5" fill="#2b8408" stroke="#1a1a1a" stroke-width="1"/>
<line x1="1375.8" x2="1375.8" y1="210.8" y2="217" stroke="#000" stroke-width="1.7"/>
<rect x="1373.2" y="210.8" width="5.2" height="6.2" fill="#ff2218" stroke="#1a1a1a" stroke-width="1"/>
<line x1="1384.2" x2="1384.2" y1="209.7" y2="227" stroke="#000" stroke-width="1.7"/>
<rect x="1381.2" y="215.2" width="6" height="2.2" fill="#1c3d0c"/>
<line x1="1392.5" x2="1392.5" y1="206.7" y2="242.5" stroke="#000" stroke-width="1.7"/>
<rect x="1389.9" y="212.0" width="5.2" height="4.3" fill="#2b8408" stroke="#1a1a1a" stroke-width="1"/>
<line x1="1400.8" x2="1400.8" y1="201.3" y2="259.7" stroke="#000" stroke-width="1.7"/>
<rect x="1398.2" y="212.0" width="5.2" height="35.5" fill="#ff2218" stroke="#1a1a1a" stroke-width="1"/>
<line x1="1409.2" x2="1409.2" y1="213.7" y2="259.7" stroke="#000" stroke-width="1.7"/>
<rect x="1406.6" y="220.3" width="5.2" height="27.2" fill="#2b8408" stroke="#1a1a1a" stroke-width="1"/>
<line x1="1417.8" x2="1417.8" y1="218.7" y2="272.5" stroke="#000" stroke-width="1.7"/>
<rect x="1415.2" y="220.3" width="5.2" height="43.9" fill="#ff2218" stroke="#1a1a1a" stroke-width="1"/>
<line x1="1434.5" x2="1434.5" y1="252" y2="262" stroke="#000" stroke-width="1.7"/>
<rect x="1431.9" y="254.2" width="5.2" height="5.5" fill="#2b8408" stroke="#1a1a1a" stroke-width="1"/>
<line x1="1442.8" x2="1442.8" y1="237.5" y2="303" stroke="#000" stroke-width="1.7"/>
<rect x="1440.2" y="254.7" width="5.2" height="42.3" fill="#ff2218" stroke="#1a1a1a" stroke-width="1"/>
<line x1="1451.2" x2="1451.2" y1="287.5" y2="310.8" stroke="#000" stroke-width="1.7"/>
<rect x="1448.6" y="297.0" width="5.2" height="2.7" fill="#ff2218" stroke="#1a1a1a" stroke-width="1"/>
<line x1="1459.7" x2="1459.7" y1="288.3" y2="328.3" stroke="#000" stroke-width="1.7"/>
<rect x="1457.1" y="300.0" width="5.2" height="18.3" fill="#ff2218" stroke="#1a1a1a" stroke-width="1"/>
<line x1="1468" x2="1468" y1="301.7" y2="331.7" stroke="#000" stroke-width="1.7"/>
<rect x="1465.4" y="318.3" width="5.2" height="8.4" fill="#ff2218" stroke="#1a1a1a" stroke-width="1"/>
<line x1="1476.7" x2="1476.7" y1="321.3" y2="373.3" stroke="#000" stroke-width="1.7"/>
<rect x="1474.1" y="326.7" width="5.2" height="25.3" fill="#ff2218" stroke="#1a1a1a" stroke-width="1"/>
<line x1="1493.3" x2="1493.3" y1="342" y2="347.5" stroke="#000" stroke-width="1.7"/>
<rect x="1490.3" y="341.7" width="6" height="2.2" fill="#111"/>
<line x1="1501.7" x2="1501.7" y1="310.8" y2="349.2" stroke="#000" stroke-width="1.7"/>
<rect x="1499.1" y="325.8" width="5.2" height="15.9" fill="#2b8408" stroke="#1a1a1a" stroke-width="1"/>
<line x1="1510" x2="1510" y1="284.2" y2="331.3" stroke="#000" stroke-width="1.7"/>
<rect x="1507.4" y="288.3" width="5.2" height="37.5" fill="#2b8408" stroke="#1a1a1a" stroke-width="1"/>
<line x1="1518.3" x2="1518.3" y1="281.7" y2="314.2" stroke="#000" stroke-width="1.7"/>
<rect x="1515.7" y="288.3" width="5.2" height="22.5" fill="#ff2218" stroke="#1a1a1a" stroke-width="1"/>
<line x1="1526.7" x2="1526.7" y1="275.8" y2="338" stroke="#000" stroke-width="1.7"/>
<rect x="1524.1" y="281.7" width="5.2" height="28.3" fill="#2b8408" stroke="#1a1a1a" stroke-width="1"/>
<line x1="1535" x2="1535" y1="268.7" y2="291.7" stroke="#000" stroke-width="1.7"/>
<rect x="1532.4" y="276.7" width="5.2" height="5.0" fill="#2b8408" stroke="#1a1a1a" stroke-width="1"/>
<line x1="1551.7" x2="1551.7" y1="272.5" y2="274" stroke="#000" stroke-width="1.7"/>
<rect x="1548.7" y="272.2" width="6" height="2.2" fill="#6b0f0f"/>
<line x1="1560.3" x2="1560.3" y1="264.2" y2="283" stroke="#000" stroke-width="1.7"/>
<rect x="1557.7" y="268.3" width="5.2" height="5.4" fill="#2b8408" stroke="#1a1a1a" stroke-width="1"/>
<line x1="1568.7" x2="1568.7" y1="268.7" y2="321.7" stroke="#000" stroke-width="1.7"/>
<rect x="1566.1" y="268.7" width="5.2" height="48.8" fill="#ff2218" stroke="#1a1a1a" stroke-width="1"/>
<line x1="1577" x2="1577" y1="278.3" y2="327" stroke="#000" stroke-width="1.7"/>
<rect x="1574.4" y="315.0" width="5.2" height="3.0" fill="#2b8408" stroke="#1a1a1a" stroke-width="1"/>
<line x1="1585.3" x2="1585.3" y1="281.7" y2="326.7" stroke="#000" stroke-width="1.7"/>
<rect x="1582.7" y="288.0" width="5.2" height="26.7" fill="#2b8408" stroke="#1a1a1a" stroke-width="1"/>
<line x1="1594.2" x2="1594.2" y1="254.2" y2="291.7" stroke="#000" stroke-width="1.7"/>
<rect x="1591.6" y="257.5" width="5.2" height="30.5" fill="#2b8408" stroke="#1a1a1a" stroke-width="1"/>
<line x1="1610.3" x2="1610.3" y1="254" y2="255.5" stroke="#000" stroke-width="1.7"/>
<rect x="1607.3" y="253.7" width="6" height="2.2" fill="#6b0f0f"/>
<line x1="1618.8" x2="1618.8" y1="231.3" y2="259.7" stroke="#000" stroke-width="1.7"/>
<rect x="1616.2" y="231.3" width="5.2" height="24.0" fill="#2b8408" stroke="#1a1a1a" stroke-width="1"/>
<line x1="1627.2" x2="1627.2" y1="220.8" y2="233.3" stroke="#000" stroke-width="1.7"/>
<rect x="1624.6" y="226.7" width="5.2" height="4.6" fill="#2b8408" stroke="#1a1a1a" stroke-width="1"/>
<line x1="1635.8" x2="1635.8" y1="225.3" y2="240.8" stroke="#000" stroke-width="1.7"/>
<rect x="1632.8" y="226.7" width="6" height="2.2" fill="#6b0f0f"/>
<line x1="1644.2" x2="1644.2" y1="226.7" y2="236.3" stroke="#000" stroke-width="1.7"/>
<rect x="1641.6" y="228.0" width="5.2" height="5.3" fill="#ff2218" stroke="#1a1a1a" stroke-width="1"/>
<line x1="137" x2="137" y1="164.4" y2="726.3" stroke="#2b8408" stroke-width="2"/>
<line x1="124" x2="137" y1="165.4" y2="165.4" stroke="#2b8408" stroke-width="2.1"/>
<line x1="124" x2="137" y1="725.3" y2="725.3" stroke="#2b8408" stroke-width="2.1"/>
<line x1="124" x2="137" y1="221.4" y2="221.4" stroke="#2b8408" stroke-width="2.1"/>
<line x1="124" x2="137" y1="333.4" y2="333.4" stroke="#2b8408" stroke-width="2.1"/>
<line x1="124" x2="137" y1="445.4" y2="445.4" stroke="#2b8408" stroke-width="2.1"/>
<line x1="124" x2="137" y1="557.4" y2="557.4" stroke="#2b8408" stroke-width="2.1"/>
<line x1="124" x2="137" y1="669.4" y2="669.4" stroke="#2b8408" stroke-width="2.1"/>
<text x="118.1" y="229.1" text-anchor="end" font-size="23" fill="#2b8408" textLength="77.8" lengthAdjust="spacingAndGlyphs">5200.00</text>
<text x="118.1" y="341.1" text-anchor="end" font-size="23" fill="#2b8408" textLength="77.8" lengthAdjust="spacingAndGlyphs">5000.00</text>
<text x="118.1" y="453.1" text-anchor="end" font-size="23" fill="#2b8408" textLength="77.8" lengthAdjust="spacingAndGlyphs">4800.00</text>
<text x="118.1" y="565.1" text-anchor="end" font-size="23" fill="#2b8408" textLength="77.8" lengthAdjust="spacingAndGlyphs">4600.00</text>
<text x="118.1" y="677.1" text-anchor="end" font-size="23" fill="#2b8408" textLength="77.8" lengthAdjust="spacingAndGlyphs">4400.00</text>
<line x1="1654" x2="1654" y1="164.4" y2="726.3" stroke="#8a8a8a" stroke-width="2"/>
<line x1="1654" x2="1665" y1="165.4" y2="165.4" stroke="#8a8a8a" stroke-width="2.2"/>
<text x="1671.7" y="173.0" font-size="23" fill="#2b384b" textLength="23.6" lengthAdjust="spacingAndGlyphs">54</text>
<text x="1695.2" y="173.0" font-size="23" fill="#2b384b" textLength="14.8" lengthAdjust="spacingAndGlyphs">%</text>
<line x1="1654" x2="1665" y1="202.7" y2="202.7" stroke="#8a8a8a" stroke-width="2.2"/>
<text x="1671.7" y="210.3" font-size="23" fill="#2b384b" textLength="23.6" lengthAdjust="spacingAndGlyphs">52</text>
<text x="1695.2" y="210.3" font-size="23" fill="#2b384b" textLength="14.8" lengthAdjust="spacingAndGlyphs">%</text>
<line x1="1654" x2="1665" y1="240.1" y2="240.1" stroke="#8a8a8a" stroke-width="2.2"/>
<text x="1671.7" y="247.7" font-size="23" fill="#2b384b" textLength="23.6" lengthAdjust="spacingAndGlyphs">50</text>
<text x="1695.2" y="247.7" font-size="23" fill="#2b384b" textLength="14.8" lengthAdjust="spacingAndGlyphs">%</text>
<line x1="1654" x2="1665" y1="277.4" y2="277.4" stroke="#8a8a8a" stroke-width="2.2"/>
<text x="1671.7" y="285.0" font-size="23" fill="#2b384b" textLength="23.6" lengthAdjust="spacingAndGlyphs">48</text>
<text x="1695.2" y="285.0" font-size="23" fill="#2b384b" textLength="14.8" lengthAdjust="spacingAndGlyphs">%</text>
<line x1="1654" x2="1665" y1="314.7" y2="314.7" stroke="#8a8a8a" stroke-width="2.2"/>
<text x="1671.7" y="322.3" font-size="23" fill="#2b384b" textLength="23.6" lengthAdjust="spacingAndGlyphs">46</text>
<text x="1695.2" y="322.3" font-size="23" fill="#2b384b" textLength="14.8" lengthAdjust="spacingAndGlyphs">%</text>
<line x1="1654" x2="1665" y1="352.0" y2="352.0" stroke="#8a8a8a" stroke-width="2.2"/>
<text x="1671.7" y="359.6" font-size="23" fill="#2b384b" textLength="23.6" lengthAdjust="spacingAndGlyphs">44</text>
<text x="1695.2" y="359.6" font-size="23" fill="#2b384b" textLength="14.8" lengthAdjust="spacingAndGlyphs">%</text>
<line x1="1654" x2="1665" y1="389.4" y2="389.4" stroke="#8a8a8a" stroke-width="2.2"/>
<text x="1671.7" y="397.0" font-size="23" fill="#2b384b" textLength="23.6" lengthAdjust="spacingAndGlyphs">42</text>
<text x="1695.2" y="397.0" font-size="23" fill="#2b384b" textLength="14.8" lengthAdjust="spacingAndGlyphs">%</text>
<line x1="1654" x2="1665" y1="426.7" y2="426.7" stroke="#8a8a8a" stroke-width="2.2"/>
<text x="1671.7" y="434.3" font-size="23" fill="#2b384b" textLength="23.6" lengthAdjust="spacingAndGlyphs">40</text>
<text x="1695.2" y="434.3" font-size="23" fill="#2b384b" textLength="14.8" lengthAdjust="spacingAndGlyphs">%</text>
<line x1="1654" x2="1665" y1="464.0" y2="464.0" stroke="#8a8a8a" stroke-width="2.2"/>
<text x="1671.7" y="471.6" font-size="23" fill="#2b384b" textLength="23.6" lengthAdjust="spacingAndGlyphs">38</text>
<text x="1695.2" y="471.6" font-size="23" fill="#2b384b" textLength="14.8" lengthAdjust="spacingAndGlyphs">%</text>
<line x1="1654" x2="1665" y1="501.3" y2="501.3" stroke="#8a8a8a" stroke-width="2.2"/>
<text x="1671.7" y="508.9" font-size="23" fill="#2b384b" textLength="23.6" lengthAdjust="spacingAndGlyphs">36</text>
<text x="1695.2" y="508.9" font-size="23" fill="#2b384b" textLength="14.8" lengthAdjust="spacingAndGlyphs">%</text>
<line x1="1654" x2="1665" y1="538.7" y2="538.7" stroke="#8a8a8a" stroke-width="2.2"/>
<text x="1671.7" y="546.3" font-size="23" fill="#2b384b" textLength="23.6" lengthAdjust="spacingAndGlyphs">34</text>
<text x="1695.2" y="546.3" font-size="23" fill="#2b384b" textLength="14.8" lengthAdjust="spacingAndGlyphs">%</text>
<line x1="1654" x2="1665" y1="576.0" y2="576.0" stroke="#8a8a8a" stroke-width="2.2"/>
<text x="1671.7" y="583.6" font-size="23" fill="#2b384b" textLength="23.6" lengthAdjust="spacingAndGlyphs">32</text>
<text x="1695.2" y="583.6" font-size="23" fill="#2b384b" textLength="14.8" lengthAdjust="spacingAndGlyphs">%</text>
<line x1="1654" x2="1665" y1="613.3" y2="613.3" stroke="#8a8a8a" stroke-width="2.2"/>
<text x="1671.7" y="620.9" font-size="23" fill="#2b384b" textLength="23.6" lengthAdjust="spacingAndGlyphs">30</text>
<text x="1695.2" y="620.9" font-size="23" fill="#2b384b" textLength="14.8" lengthAdjust="spacingAndGlyphs">%</text>
<line x1="1654" x2="1665" y1="650.6" y2="650.6" stroke="#8a8a8a" stroke-width="2.2"/>
<text x="1671.7" y="658.2" font-size="23" fill="#2b384b" textLength="23.6" lengthAdjust="spacingAndGlyphs">28</text>
<text x="1695.2" y="658.2" font-size="23" fill="#2b384b" textLength="14.8" lengthAdjust="spacingAndGlyphs">%</text>
<line x1="1654" x2="1665" y1="688.0" y2="688.0" stroke="#8a8a8a" stroke-width="2.2"/>
<text x="1671.7" y="695.6" font-size="23" fill="#2b384b" textLength="23.6" lengthAdjust="spacingAndGlyphs">26</text>
<text x="1695.2" y="695.6" font-size="23" fill="#2b384b" textLength="14.8" lengthAdjust="spacingAndGlyphs">%</text>
<line x1="1654" x2="1665" y1="725.3" y2="725.3" stroke="#8a8a8a" stroke-width="2.2"/>
<text x="1671.7" y="732.9" font-size="23" fill="#2b384b" textLength="23.6" lengthAdjust="spacingAndGlyphs">24</text>
<text x="1695.2" y="732.9" font-size="23" fill="#2b384b" textLength="14.8" lengthAdjust="spacingAndGlyphs">%</text>
<g font-size="23" fill="#000">
<text x="161.5" y="783.7" font-weight="bold" textLength="225" lengthAdjust="spacingAndGlyphs">Percentage of Traders</text>
<rect x="442" y="766" width="20" height="20" fill="#e6f3fc" stroke="#1f9fe5" stroke-width="4"/>
<text x="470.6" y="783.7" textLength="82.6" lengthAdjust="spacingAndGlyphs">net long</text>
<rect x="672" y="766" width="20" height="20" fill="#f6e4e7" stroke="#d0021b" stroke-width="4"/>
<text x="701.2" y="783.7" textLength="89" lengthAdjust="spacingAndGlyphs">net short</text>
<text x="901" y="783.7" font-weight="bold" textLength="186.5" lengthAdjust="spacingAndGlyphs">Number of Traders</text>
<line x1="1141.5" x2="1162.5" y1="775.8" y2="775.8" stroke="#1f9fe5" stroke-width="3.3"/>
<text x="1171.2" y="783.7" textLength="81.6" lengthAdjust="spacingAndGlyphs">net long</text>
<line x1="1371.5" x2="1392" y1="775.8" y2="775.8" stroke="#d0021b" stroke-width="3.3"/>
<text x="1401.5" y="783.7" textLength="87.6" lengthAdjust="spacingAndGlyphs">net short</text>
</g>
<line x1="145.3" x2="1645.3" y1="837.3" y2="837.3" stroke="#cbcbcb" stroke-width="1.8" stroke-dasharray="3.6 4.4"/>
<line x1="145.3" x2="1645.3" y1="867.7" y2="867.7" stroke="#cbcbcb" stroke-width="1.8" stroke-dasharray="3.6 4.4"/>
<line x1="145.3" x2="1645.3" y1="898.0" y2="898.0" stroke="#cbcbcb" stroke-width="1.8" stroke-dasharray="3.6 4.4"/>
<line x1="145.3" x2="1645.3" y1="928.3" y2="928.3" stroke="#cbcbcb" stroke-width="1.8" stroke-dasharray="3.6 4.4"/>
<line x1="145.3" x2="1645.3" y1="958.6" y2="958.6" stroke="#cbcbcb" stroke-width="1.8" stroke-dasharray="3.6 4.4"/>
<line x1="304.6" x2="304.6" y1="807.0" y2="977.0" stroke="#bbbbbb" stroke-width="1.7" stroke-dasharray="3.6 4.4"/>
<line x1="564.4" x2="564.4" y1="807.0" y2="977.0" stroke="#bbbbbb" stroke-width="1.7" stroke-dasharray="3.6 4.4"/>
<line x1="824.2" x2="824.2" y1="807.0" y2="977.0" stroke="#bbbbbb" stroke-width="1.7" stroke-dasharray="3.6 4.4"/>
<line x1="1067.2" x2="1067.2" y1="807.0" y2="977.0" stroke="#bbbbbb" stroke-width="1.7" stroke-dasharray="3.6 4.4"/>
<line x1="1327.0" x2="1327.0" y1="807.0" y2="977.0" stroke="#bbbbbb" stroke-width="1.7" stroke-dasharray="3.6 4.4"/>
<line x1="1578.4" x2="1578.4" y1="807.0" y2="977.0" stroke="#bbbbbb" stroke-width="1.7" stroke-dasharray="3.6 4.4"/>
<line x1="145.3" x2="1645.3" y1="807.0" y2="807.0" stroke="#929292" stroke-width="2.2" stroke-dasharray="3.6 4.4"/>
<line x1="145.3" x2="1645.3" y1="977.0" y2="977.0" stroke="#c4c4c4" stroke-width="1.8" stroke-dasharray="3.6 4.4"/>
<line x1="145.3" x2="145.3" y1="807.0" y2="977.0" stroke="#9c9c9c" stroke-width="2.2" stroke-dasharray="3.6 4.4"/>
<line x1="1645.3" x2="1645.3" y1="807.0" y2="977.0" stroke="#c9c9c9" stroke-width="2" stroke-dasharray="3.6 4.4"/>
<polyline points="145.0,937.5 153.4,935.8 161.8,912.5 170.1,932.2 178.5,929.7 186.9,933.8 195.3,936.7 203.7,936.7 212.0,936.2 220.4,936.2 228.8,937.8 237.2,942.0 245.6,941.3 253.9,941.3 262.3,941.3 270.7,943.3 279.1,937.5 287.5,938.3 295.8,937.5 304.2,939.7 312.6,952.5 321.0,952.5 329.4,951.7 337.7,944.2 346.1,940.3 354.5,938.7 362.9,951.7 371.3,956.3 379.6,956.3 388.0,954.2 396.4,952.5 404.8,952.5 413.2,955.3 421.5,952.8 429.9,956.3 438.3,956.3 446.7,955.0 455.1,954.2 463.4,951.7 471.8,950.8 480.2,953.7 488.6,962.5 497.0,962.5 505.3,962.0 513.7,960.8 522.1,956.3 530.5,956.3 538.9,955.3 547.2,965.5 555.6,965.5 564.0,965.3 572.4,964.7 580.8,958.0 589.1,945.0 597.5,942.5 605.9,952.2 614.3,952.2 622.7,950.0 631.0,957.0 639.4,953.8 647.8,957.8 656.2,964.5 664.6,969.5 672.9,969.5 681.3,968.8 689.7,960.5 698.1,960.5 706.5,958.7 714.8,959.2 723.2,973.3 731.6,973.3 740.0,970.5 748.4,953.0 756.7,957.0 765.1,960.5 773.5,965.8 781.9,963.0 790.3,962.8 798.6,962.0 807.0,962.2 815.4,960.8 823.8,946.7 832.2,965.8 840.5,975.8 848.9,976.2 857.3,970.8 865.7,960.8 874.1,955.3 882.4,964.7 890.8,961.2 899.2,970.5 907.6,970.5 916.0,969.2 924.3,965.8 932.7,960.8 941.1,956.7 949.5,954.5 957.9,967.5 966.2,967.5 974.6,964.2 983.0,956.7 991.4,954.2 999.8,955.3 1008.1,963.3 1016.5,965.8 1024.9,965.8 1033.3,963.7 1041.7,957.0 1050.0,949.2 1058.4,948.3 1066.8,952.0 1075.2,967.0 1083.6,967.0 1091.9,964.7 1100.3,960.0 1108.7,952.2 1117.1,947.5 1125.5,964.2 1133.8,966.3 1142.2,966.3 1150.6,964.2 1159.0,950.3 1167.4,955.8 1175.7,950.3 1184.1,953.3 1192.5,948.3 1200.9,948.3 1209.3,945.5 1217.6,953.0 1226.0,957.0 1234.4,963.7 1242.8,958.3 1251.2,962.2 1259.5,962.2 1267.9,960.0 1276.3,950.8 1284.7,943.7 1293.1,951.3 1301.4,940.0 1309.8,940.0 1318.2,939.7 1326.6,930.8 1335.0,930.8 1343.3,930.8 1351.7,936.3 1360.1,934.2 1368.5,950.3 1376.9,949.7 1385.2,949.7 1393.6,939.2 1402.0,933.3 1410.4,933.3 1418.8,945.8 1427.1,937.5 1435.5,937.5 1443.9,920.3 1452.3,920.3 1460.7,916.7 1469.0,910.8 1477.4,903.0 1485.8,915.0 1494.2,911.7 1502.6,898.8 1510.9,913.7 1519.3,917.5 1527.7,917.8 1536.1,925.3 1544.5,933.8 1552.8,933.8 1561.2,931.2 1569.6,930.3 1578.0,920.0 1586.4,920.3 1594.7,926.7 1603.1,940.3 1611.5,937.8 1619.9,937.8 1628.3,933.7 1636.6,934.2 1645.0,936.7" fill="none" stroke="#1f9fe5" stroke-width="3.2" stroke-linejoin="round"/>
<polyline points="145.0,866.7 153.4,864.7 161.8,867.5 170.1,867.5 178.5,862.5 186.9,856.3 195.3,861.3 203.7,861.3 212.0,860.5 220.4,856.7 228.8,854.2 237.2,849.5 245.6,848.3 253.9,847.8 262.3,847.8 270.7,846.7 279.1,840.0 287.5,842.8 295.8,845.5 304.2,842.8 312.6,846.3 321.0,846.3 329.4,846.3 337.7,850.8 346.1,846.3 354.5,853.7 362.9,839.2 371.3,855.0 379.6,855.0 388.0,854.7 396.4,853.3 404.8,858.3 413.2,868.0 421.5,864.2 429.9,867.0 438.3,867.0 446.7,865.8 455.1,857.5 463.4,860.0 471.8,872.0 480.2,860.8 488.6,861.7 497.0,861.7 505.3,862.0 513.7,862.5 522.1,858.0 530.5,853.0 538.9,849.5 547.2,857.2 555.6,857.2 564.0,856.2 572.4,855.3 580.8,853.0 589.1,862.2 597.5,863.3 605.9,868.3 614.3,868.3 622.7,868.0 631.0,852.8 639.4,855.8 647.8,854.2 656.2,848.8 664.6,847.8 672.9,847.8 681.3,847.2 689.7,844.5 698.1,843.3 706.5,847.0 714.8,849.5 723.2,849.5 731.6,849.5 740.0,852.0 748.4,849.7 756.7,853.3 765.1,850.5 773.5,840.0 781.9,846.2 790.3,846.2 798.6,847.0 807.0,844.7 815.4,843.8 823.8,864.7 832.2,852.0 840.5,848.7 848.9,848.7 857.3,847.5 865.7,847.5 874.1,843.0 882.4,817.5 890.8,821.3 899.2,825.5 907.6,825.5 916.0,825.3 924.3,825.8 932.7,855.0 941.1,847.5 949.5,841.3 957.9,843.7 966.2,843.7 974.6,845.0 983.0,839.5 991.4,845.0 999.8,854.2 1008.1,840.0 1016.5,842.2 1024.9,842.2 1033.3,842.5 1041.7,836.3 1050.0,844.2 1058.4,848.3 1066.8,854.5 1075.2,848.7 1083.6,848.7 1091.9,848.0 1100.3,847.5 1108.7,863.7 1117.1,857.2 1125.5,849.5 1133.8,858.7 1142.2,858.7 1150.6,857.5 1159.0,856.2 1167.4,842.0 1175.7,840.5 1184.1,843.0 1192.5,861.3 1200.9,861.3 1209.3,860.5 1217.6,848.0 1226.0,841.7 1234.4,850.3 1242.8,845.8 1251.2,853.7 1259.5,853.7 1267.9,854.2 1276.3,855.3 1284.7,865.3 1293.1,862.8 1301.4,862.5 1309.8,864.2 1318.2,865.8 1326.6,864.5 1335.0,864.7 1343.3,869.5 1351.7,863.8 1360.1,881.7 1368.5,855.3 1376.9,854.2 1385.2,854.2 1393.6,849.7 1402.0,863.3 1410.4,863.3 1418.8,857.5 1427.1,875.5 1435.5,875.5 1443.9,884.2 1452.3,884.2 1460.7,885.8 1469.0,894.2 1477.4,899.2 1485.8,912.5 1494.2,912.8 1502.6,915.0 1510.9,901.3 1519.3,903.7 1527.7,903.7 1536.1,902.8 1544.5,896.7 1552.8,896.7 1561.2,896.2 1569.6,890.0 1578.0,903.3 1586.4,905.0 1594.7,897.5 1603.1,885.5 1611.5,886.2 1619.9,886.3 1628.3,870.3 1636.6,870.0 1645.0,868.0" fill="none" stroke="#d0021b" stroke-width="3.2" stroke-linejoin="round"/>
<line x1="1654" x2="1654" y1="806.0" y2="978.0" stroke="#8a8a8a" stroke-width="2"/>
<line x1="1654" x2="1665" y1="807.0" y2="807.0" stroke="#8a8a8a" stroke-width="2.2"/>
<text x="1671.5" y="815.5" font-size="23" fill="#2b384b" textLength="47.2" lengthAdjust="spacingAndGlyphs">4000</text>
<line x1="1654" x2="1665" y1="837.3" y2="837.3" stroke="#8a8a8a" stroke-width="2.2"/>
<text x="1671.5" y="845.8" font-size="23" fill="#2b384b" textLength="47.2" lengthAdjust="spacingAndGlyphs">3500</text>
<line x1="1654" x2="1665" y1="867.7" y2="867.7" stroke="#8a8a8a" stroke-width="2.2"/>
<text x="1671.5" y="876.2" font-size="23" fill="#2b384b" textLength="47.2" lengthAdjust="spacingAndGlyphs">3000</text>
<line x1="1654" x2="1665" y1="898.0" y2="898.0" stroke="#8a8a8a" stroke-width="2.2"/>
<text x="1671.5" y="906.5" font-size="23" fill="#2b384b" textLength="47.2" lengthAdjust="spacingAndGlyphs">2500</text>
<line x1="1654" x2="1665" y1="928.3" y2="928.3" stroke="#8a8a8a" stroke-width="2.2"/>
<text x="1671.5" y="936.8" font-size="23" fill="#2b384b" textLength="47.2" lengthAdjust="spacingAndGlyphs">2000</text>
<line x1="1654" x2="1665" y1="958.6" y2="958.6" stroke="#8a8a8a" stroke-width="2.2"/>
<text x="1671.5" y="967.1" font-size="23" fill="#2b384b" textLength="47.2" lengthAdjust="spacingAndGlyphs">1500</text>
<line x1="1654" x2="1665" y1="977.0" y2="977.0" stroke="#8a8a8a" stroke-width="2.2"/>
<line x1="304.6" x2="304.6" y1="975.0" y2="988" stroke="#85888f" stroke-width="2"/>
<text transform="translate(312.2,1118) rotate(-90)" font-size="23.5" fill="#2b384b" textLength="120.3" lengthAdjust="spacingAndGlyphs">2023-Dec-01</text>
<line x1="564.4" x2="564.4" y1="975.0" y2="988" stroke="#85888f" stroke-width="2"/>
<text transform="translate(572.0,1118) rotate(-90)" font-size="23.5" fill="#2b384b" textLength="120.3" lengthAdjust="spacingAndGlyphs">2024-Jan-01</text>
<line x1="824.2" x2="824.2" y1="975.0" y2="988" stroke="#85888f" stroke-width="2"/>
<text transform="translate(831.8,1118) rotate(-90)" font-size="23.5" fill="#2b384b" textLength="120.3" lengthAdjust="spacingAndGlyphs">2024-Feb-01</text>
<line x1="1067.2" x2="1067.2" y1="975.0" y2="988" stroke="#85888f" stroke-width="2"/>
<text transform="translate(1074.8,1118) rotate(-90)" font-size="23.5" fill="#2b384b" textLength="120.3" lengthAdjust="spacingAndGlyphs">2024-Mar-01</text>
<line x1="1327.0" x2="1327.0" y1="975.0" y2="988" stroke="#85888f" stroke-width="2"/>
<text transform="translate(1334.6,1118) rotate(-90)" font-size="23.5" fill="#2b384b" textLength="120.3" lengthAdjust="spacingAndGlyphs">2024-Apr-01</text>
<line x1="1578.4" x2="1578.4" y1="975.0" y2="988" stroke="#85888f" stroke-width="2"/>
<text transform="translate(1586.0,1118) rotate(-90)" font-size="23.5" fill="#2b384b" textLength="120.3" lengthAdjust="spacingAndGlyphs">2024-May-01</text>
<g font-style="italic" font-weight="900">
<text x="1550.6" y="1156.8" font-size="57" fill="#8d97a5" stroke="#8d97a5" stroke-width="1.6" stroke-linejoin="round" textLength="241" lengthAdjust="spacingAndGlyphs" style="font-family:'Liberation Sans','Noto Sans CJK SC',sans-serif">海马财经</text>
<text x="1548.8" y="1155" font-size="57" fill="#fdfdfd" stroke="#fdfdfd" stroke-width="1.6" stroke-linejoin="round" fill-opacity="0.97" textLength="241" lengthAdjust="spacingAndGlyphs" style="font-family:'Liberation Sans','Noto Sans CJK SC',sans-serif">海马财经</text>
<text x="1566.9" y="1195.4" font-size="33" fill="#909aa8" stroke="#909aa8" stroke-width="1.2" textLength="222" lengthAdjust="spacing">zzrt01.cn</text>
<text x="1566" y="1194.5" font-size="33" fill="#7cc4f0" stroke="#7cc4f0" stroke-width="1.2" textLength="222" lengthAdjust="spacing">zzrt01.cn</text>
</g>
</svg></body></html>
